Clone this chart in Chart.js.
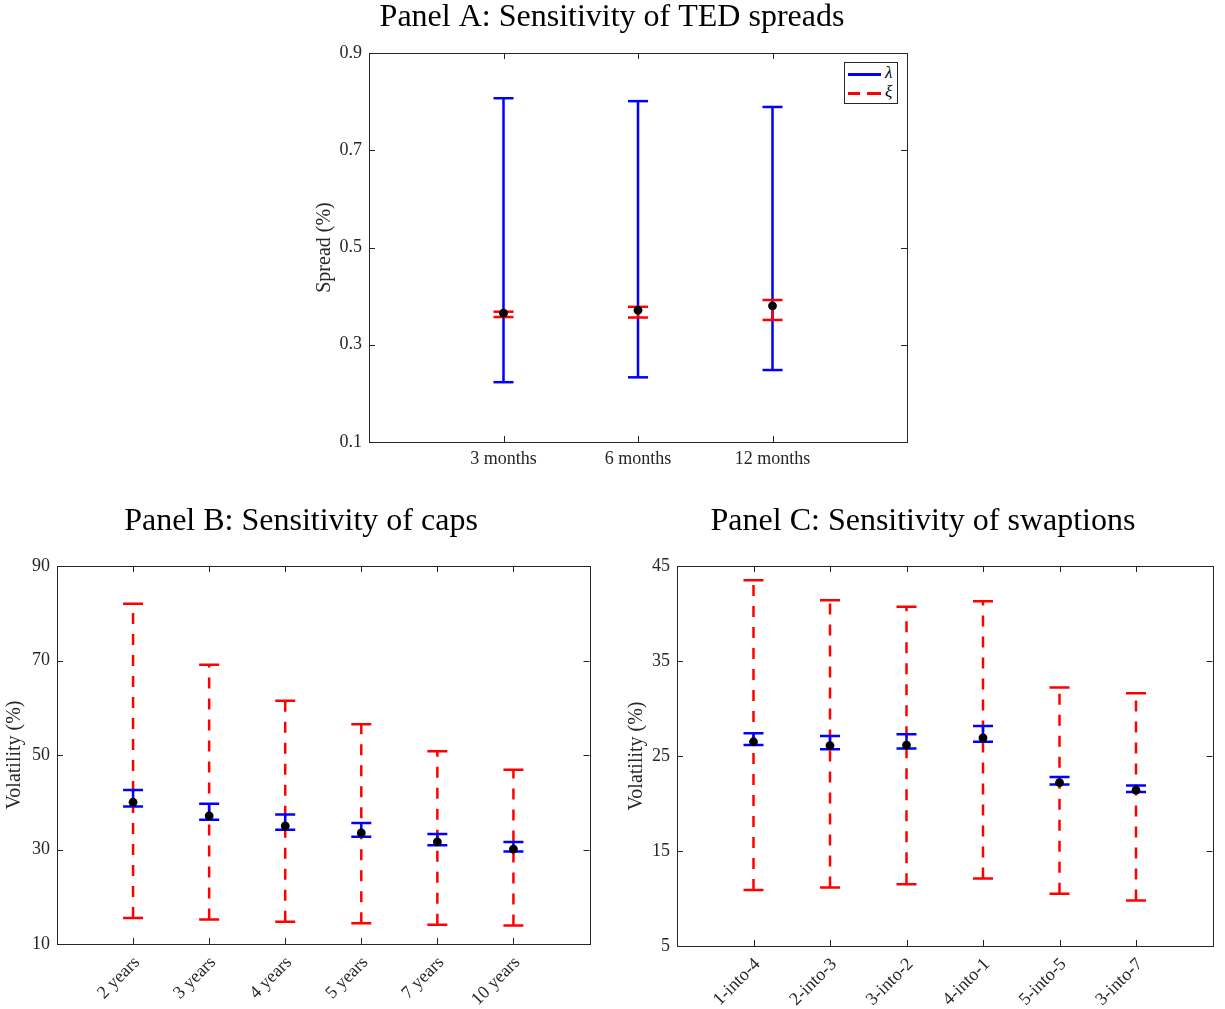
<!DOCTYPE html>
<html>
<head>
<meta charset="utf-8">
<title>Sensitivity panels</title>
<script src="https://cdn.jsdelivr.net/npm/chart.js@4.4.0/dist/chart.umd.min.js"></script>
<style>
  body { margin: 0; background: #fff; }
  #page { position: relative; width: 1225px; height: 1009px; overflow: hidden; }
  canvas { position: absolute; }
  #legendA { position: absolute; left: 844px; top: 62px; width: 54px; height: 42px;
             box-sizing: border-box; border: 1px solid #262626; background: #fff;
             font-family: "Liberation Serif", serif; font-style: italic; font-size: 17px; color: #000; }
  #legendA .swatch { position: absolute; left: 3px; width: 33px; height: 2.5px; }
  #legendA .sym { position: absolute; left: 40px; line-height: 17px; }
</style>
</head>
<body>
<div id="page">
  <canvas id="panelA" width="704" height="490" style="left:260px;top:0px"></canvas>
  <canvas id="panelB" width="602" height="529" style="left:0px;top:480px"></canvas>
  <canvas id="panelC" width="604" height="529" style="left:621px;top:480px"></canvas>
  <div id="legendA">
    <span class="swatch" style="top:10px;background:#0000ff"></span>
    <span class="sym" style="top:1px">λ</span>
    <span class="swatch" style="top:29px;background:linear-gradient(to right,#ff0000 0 12px,transparent 12px 19px,#ff0000 19px 31px)"></span>
    <span class="sym" style="top:20px">ξ</span>
  </div>
</div>
<script>
// Panel A: TED spreads (%)
const tedLabels = ['3 months', '6 months', '12 months'];
const tedLambdaLow = [0.223, 0.233, 0.248];
const tedLambdaHigh = [0.807, 0.801, 0.789];
const tedXiLow = [0.357, 0.356, 0.351];
const tedXiHigh = [0.368, 0.378, 0.392];
const tedPoint = [0.365, 0.371, 0.380];
const tedYTicks = [0.1, 0.3, 0.5, 0.7, 0.9];

// Panel B: caps volatility (%)
const capLabels = ['2 years', '3 years', '4 years', '5 years', '7 years', '10 years'];
const capLambdaLow = [39.1, 36.3, 34.2, 32.7, 30.9, 29.6];
const capLambdaHigh = [42.6, 39.7, 37.4, 35.6, 33.3, 31.6];
const capXiLow = [15.5, 15.2, 14.7, 14.4, 14.1, 13.9];
const capXiHigh = [82.0, 69.1, 61.5, 56.5, 50.8, 46.9];
const capPoint = [40.0, 37.1, 35.0, 33.5, 31.6, 30.1];
const capYTicks = [10, 30, 50, 70, 90];

// Panel C: swaptions volatility (%)
const swpLabels = ['1-into-4', '2-into-3', '3-into-2', '4-into-1', '5-into-5', '3-into-7'];
const swpLambdaLow = [26.15, 25.7, 25.8, 26.5, 22.0, 21.2];
const swpLambdaHigh = [27.4, 27.1, 27.3, 28.15, 22.8, 21.9];
const swpXiLow = [10.9, 11.15, 11.5, 12.1, 10.5, 9.8];
const swpXiHigh = [43.5, 41.4, 40.7, 41.3, 32.2, 31.6];
const swpPoint = [26.5, 26.1, 26.15, 26.9, 22.2, 21.4];
const swpYTicks = [5, 15, 25, 35, 45];

const FONT = '"Liberation Serif", "Times New Roman", serif';
const AXIS = '#262626';
const BLUE = '#0000ff';
const RED = '#ff0000';

// each range becomes low -> high, then a null so the line breaks
function rangeData(low, high) {
    const out = [];
    low.forEach((lo, i) => {
        out.push({x: i + 1, y: lo}, {x: i + 1, y: high[i]}, {x: i + 1, y: null});
    });
    return out;
}

function rangeSet(label, low, high, color, dash) {
    return {
        label: label,
        data: rangeData(low, high),
        showLine: true,
        spanGaps: false,
        borderColor: color,
        borderWidth: 2.5,
        borderDash: dash,
        pointStyle: 'line',
        pointRadius: 10,
        pointBorderWidth: 2.5,
        pointBorderColor: color,
        pointBackgroundColor: color
    };
}

function pointSet(values) {
    return {
        label: 'estimate',
        data: values.map((v, i) => ({x: i + 1, y: v})),
        showLine: false,
        pointStyle: 'circle',
        pointRadius: 4.4,
        pointBorderWidth: 0,
        pointBackgroundColor: '#000',
        pointBorderColor: '#000'
    };
}

// matlab style box with inward ticks on all four sides
const boxFrame = {
    id: 'boxFrame',
    afterDraw(chart) {
        const {ctx, chartArea: a, scales} = chart;
        const t = 6;
        ctx.save();
        ctx.strokeStyle = AXIS;
        ctx.lineWidth = 1;
        ctx.strokeRect(Math.round(a.left) + 0.5, Math.round(a.top) + 0.5,
                       Math.round(a.right - a.left), Math.round(a.bottom - a.top));
        ctx.beginPath();
        scales.y.ticks.forEach(tk => {
            const py = Math.round(scales.y.getPixelForValue(tk.value)) + 0.5;
            ctx.moveTo(a.left, py); ctx.lineTo(a.left + t, py);
            ctx.moveTo(a.right, py); ctx.lineTo(a.right - t, py);
        });
        scales.x.ticks.forEach(tk => {
            const px = Math.round(scales.x.getPixelForValue(tk.value)) + 0.5;
            ctx.moveTo(px, a.bottom); ctx.lineTo(px, a.bottom - t);
            ctx.moveTo(px, a.top); ctx.lineTo(px, a.top + t);
        });
        ctx.stroke();
        ctx.restore();
    }
};

function makePanel(id, cfg) {
    new Chart(document.getElementById(id), {
        type: 'scatter',
        data: {datasets: cfg.datasets},
        options: {
            responsive: false,
            animation: false,
            events: [],
            layout: {padding: 0},
            plugins: {
                legend: {display: false},
                tooltip: {enabled: false},
                title: {
                    display: true,
                    text: cfg.title,
                    color: '#000',
                    font: {family: FONT, size: 32, weight: 'normal', lineHeight: 1},
                    padding: {top: cfg.titleTop, bottom: cfg.titleBottom}
                }
            },
            scales: {
                x: {
                    type: 'linear',
                    min: 0,
                    max: cfg.labels.length + 1,
                    afterBuildTicks: s => { s.ticks = cfg.labels.map((_, i) => ({value: i + 1})); },
                    afterFit: s => {
                        s.height = cfg.xHeight;
                        // labels sit well inside the plot, no side padding needed
                        s.paddingLeft = 0;
                        s.paddingRight = 0;
                    },
                    grid: {display: false, drawTicks: false},
                    border: {display: false},
                    ticks: {
                        autoSkip: false,
                        minRotation: cfg.rotation,
                        maxRotation: cfg.rotation,
                        padding: cfg.xPad,
                        labelOffset: cfg.xShift,
                        color: AXIS,
                        font: {family: FONT, size: 18},
                        callback: (v, i) => cfg.labels[i]
                    }
                },
                y: {
                    type: 'linear',
                    min: cfg.yTicks[0],
                    max: cfg.yTicks[cfg.yTicks.length - 1],
                    afterBuildTicks: s => { s.ticks = cfg.yTicks.map(v => ({value: v})); },
                    afterFit: s => { s.width = cfg.yWidth; },
                    grid: {display: false, drawTicks: false},
                    border: {display: false},
                    ticks: {
                        padding: 7,
                        color: AXIS,
                        font: {family: FONT, size: 18},
                        callback: (v, i) => String(cfg.yTicks[i])
                    },
                    title: {
                        display: true,
                        text: cfg.yTitle,
                        color: AXIS,
                        font: {family: FONT, size: 20, lineHeight: 1.2},
                        padding: {top: cfg.yTitlePad, bottom: 0}
                    }
                },
                // empty right-hand axis, keeps the title centred where the reference has it
                yRight: {
                    type: 'linear',
                    position: 'right',
                    grid: {display: false, drawTicks: false},
                    border: {display: false},
                    ticks: {display: false},
                    afterFit: s => { s.width = cfg.rightSpace; }
                }
            }
        },
        plugins: [boxFrame]
    });
}

document.addEventListener('DOMContentLoaded', function() {
    // first dataset is painted last, so order sets what lies on top
    makePanel('panelA', {
        title: 'Panel A: Sensitivity of TED spreads',
        labels: tedLabels,
        yTicks: tedYTicks,
        yTitle: 'Spread (%)',
        datasets: [
            pointSet(tedPoint),
            rangeSet('ξ', tedXiLow, tedXiHigh, RED, [11, 10]),
            rangeSet('λ', tedLambdaLow, tedLambdaHigh, BLUE, [])
        ],
        rightSpace: 57, yWidth: 109, xHeight: 48, xPad: 6, xShift: 0, rotation: 0,
        titleTop: 2, titleBottom: 19, yTitlePad: 53
    });

    makePanel('panelB', {
        title: 'Panel B: Sensitivity of caps',
        labels: capLabels,
        yTicks: capYTicks,
        yTitle: 'Volatility (%)',
        datasets: [
            pointSet(capPoint),
            rangeSet('λ', capLambdaLow, capLambdaHigh, BLUE, []),
            rangeSet('ξ', capXiLow, capXiHigh, RED, [11, 10])
        ],
        rightSpace: 8, yWidth: 57, xHeight: 65, xPad: 8, xShift: 4, rotation: 45,
        titleTop: 26, titleBottom: 28, yTitlePad: 3
    });

    makePanel('panelC', {
        title: 'Panel C: Sensitivity of swaptions',
        labels: swpLabels,
        yTicks: swpYTicks,
        yTitle: 'Volatility (%)',
        datasets: [
            pointSet(swpPoint),
            rangeSet('λ', swpLambdaLow, swpLambdaHigh, BLUE, []),
            rangeSet('ξ', swpXiLow, swpXiHigh, RED, [11, 10])
        ],
        rightSpace: 10, yWidth: 56, xHeight: 63, xPad: 8, xShift: 4, rotation: 45,
        titleTop: 26, titleBottom: 28, yTitlePad: 4
    });
});
</script>
</body>
</html>
